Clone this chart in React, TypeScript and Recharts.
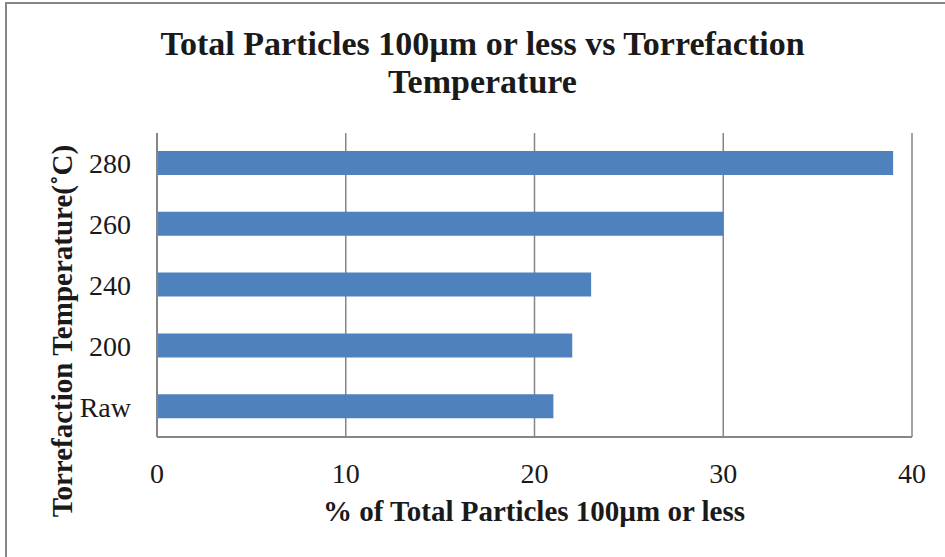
import React from "react";
import { BarChart, Bar, XAxis, YAxis, CartesianGrid, Label } from "recharts";

const categories = ["280", "260", "240", "200", "Raw"];
const particlePct = [39, 30, 23, 22, 21];
const xTicks = [0, 10, 20, 30, 40];

const data = categories.map((temp, i) => ({ temp, pct: particlePct[i] }));

const FONT = "'Liberation Serif', 'DejaVu Serif', serif";
const GRAY = "#868686";

export default function App() {
  return (
    <div
      style={{
        position: "absolute",
        left: 0,
        top: 0,
        width: 945,
        height: 557,
        background: "#fff",
        overflow: "hidden",
        fontFamily: FONT,
      }}
    >
      {/* outer chart frame (right/bottom edges are cropped off in the reference) */}
      <div
        style={{
          position: "absolute",
          left: 5,
          top: 2,
          width: 1000,
          height: 1000,
          borderLeft: `2px solid ${GRAY}`,
          borderTop: `2px solid ${GRAY}`,
        }}
      />
      <div
        style={{
          position: "absolute",
          left: 0,
          top: 25,
          width: 965,
          textAlign: "center",
          fontWeight: "bold",
          fontSize: 34,
          lineHeight: "38px",
          color: "#1a1a1a",
        }}
      >
        Total Particles 100µm or less vs Torrefaction
        <br />
        Temperature
      </div>
      <BarChart
        width={945}
        height={557}
        data={data}
        layout="vertical"
        barSize={24}
        margin={{ top: 133, right: 33, bottom: 50, left: 0 }}
        style={{ position: "absolute", left: 0, top: 0 }}
      >
        <CartesianGrid horizontal={false} stroke={GRAY} strokeWidth={1.5} />
        <XAxis
          type="number"
          domain={[0, 40]}
          ticks={xTicks}
          height={70}
          tickLine={false}
          tickSize={0}
          tickMargin={26}
          axisLine={{ stroke: GRAY, strokeWidth: 2 }}
          tick={{ fill: "#1a1a1a", fontSize: 28, fontFamily: FONT }}
        >
          <Label
            content={() => (
              <text
                x={534}
                y={521}
                textAnchor="middle"
                fontSize={29}
                fontWeight="bold"
                fontFamily={FONT}
                fill="#1a1a1a"
              >
                % of Total Particles 100µm or less
              </text>
            )}
          />
        </XAxis>
        <YAxis
          type="category"
          dataKey="temp"
          width={157}
          tickLine={false}
          tickSize={0}
          tickMargin={26}
          axisLine={{ stroke: GRAY, strokeWidth: 2 }}
          tick={{ fill: "#1a1a1a", fontSize: 28, fontFamily: FONT }}
        >
          <Label
            content={() => (
              <text
                x={72}
                y={331}
                transform="rotate(-90 72 331)"
                textAnchor="middle"
                fontSize={29}
                fontWeight="bold"
                fontFamily={FONT}
                fill="#1a1a1a"
              >
                Torrefaction Temperature(˚C)
              </text>
            )}
          />
        </YAxis>
        <Bar dataKey="pct" fill="#4f81bd" isAnimationActive={false} />
      </BarChart>
    </div>
  );
}
